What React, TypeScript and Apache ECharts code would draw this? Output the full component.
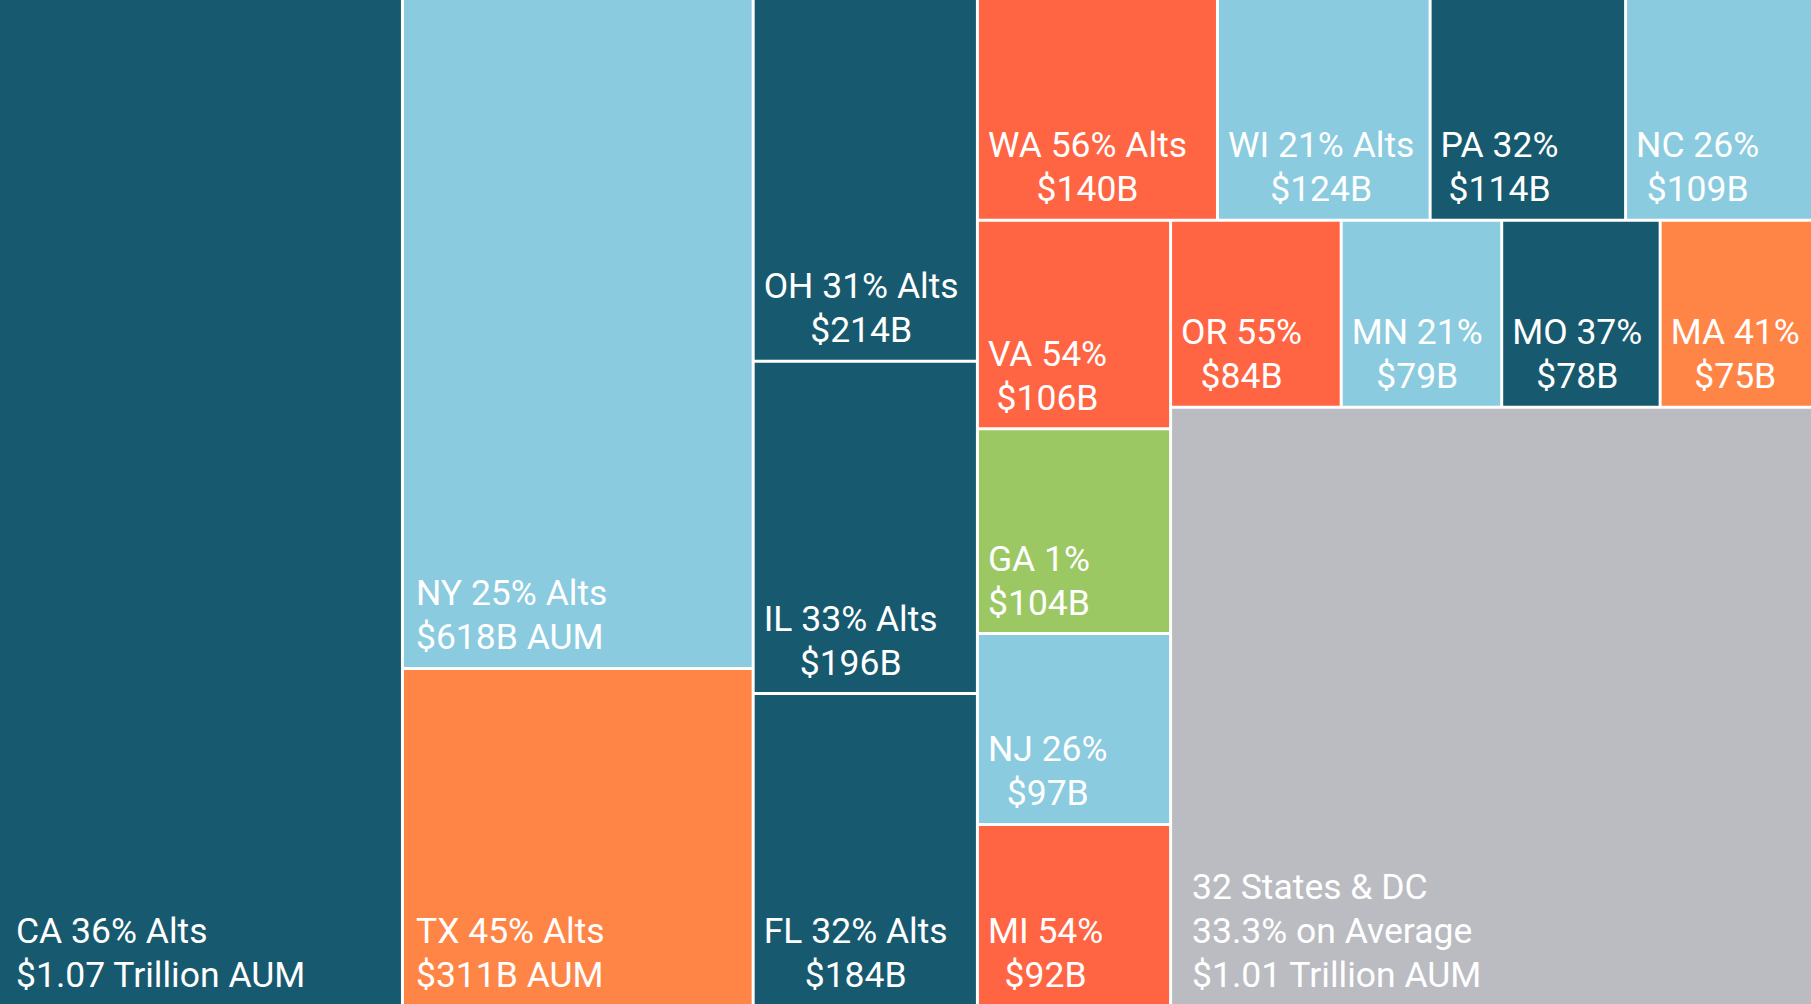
import React, { useEffect, useRef } from 'react';
import * as echarts from 'echarts';

// ---- Data ----
const states = ['CA', 'NY', 'TX', 'OH', 'IL', 'FL', 'WA', 'WI', 'PA', 'NC', 'VA', 'GA', 'NJ', 'MI', 'OR', 'MN', 'MO', 'MA', '32 States & DC'];
const aumBillions = [1070, 618, 311, 214, 196, 184, 140, 124, 114, 109, 106, 104, 97, 92, 84, 79, 78, 75, 1010];
const labelTexts = [
  'CA 36% Alts\n$1.07 Trillion AUM',
  'NY 25% Alts\n$618B AUM',
  'TX 45% Alts\n$311B AUM',
  'OH 31% Alts\n$214B',
  'IL 33% Alts\n$196B',
  'FL 32% Alts\n$184B',
  'WA 56% Alts\n$140B',
  'WI 21% Alts\n$124B',
  'PA 32%\n$114B',
  'NC 26%\n$109B',
  'VA 54%\n$106B',
  'GA 1%\n$104B',
  'NJ 26%\n$97B',
  'MI 54%\n$92B',
  'OR 55%\n$84B',
  'MN 21%\n$79B',
  'MO 37%\n$78B',
  'MA 41%\n$75B',
  '32 States & DC\n33.3% on Average\n$1.01 Trillion AUM',
];
const colorGroup = ['dark', 'light', 'orange', 'dark', 'dark', 'dark', 'red', 'light', 'dark', 'light', 'red', 'green', 'light', 'red', 'red', 'light', 'dark', 'orange', 'gray'];
const centeredLines = [false, false, false, true, true, true, true, true, true, true, true, true, true, true, true, true, true, true, false];
// grouping of the cells (indices into the arrays above)
const grouping: any[] = [0, [1, 2], [3, 4, 5], [[6, 7, 8, 9], [10, 11, 12, 13], [14, 15, 16, 17], 18]];

// ---- Styles ----
const palette: Record<string, string> = {
  dark: '#175a6f',
  light: '#8acbdf',
  red: '#ff6543',
  orange: '#ff8547',
  green: '#9cc864',
  gray: '#bbbcc1',
};
const extraLeftPad: Record<string, number> = { CA: 7, NY: 3, TX: 3, '32 States & DC': 11 };

let groupCounter = 0;
function buildNode(entry: any): any {
  if (typeof entry === 'number') {
    return {
      name: states[entry],
      value: aumBillions[entry],
      itemStyle: { color: palette[colorGroup[entry]] },
    };
  }
  groupCounter += 1;
  return { name: 'group' + groupCounter, children: entry.map(buildNode) };
}

export default function App() {
  const ref = useRef<HTMLDivElement>(null);
  useEffect(() => {
    if (!ref.current) return;
    const chart = echarts.init(ref.current, null, { renderer: 'svg' });
    groupCounter = 0;
    const data = grouping.map(buildNode);
    const labelByName: Record<string, string> = {};
    const padByText: Record<string, number> = {};
    states.forEach((s, i) => {
      labelByName[s] = labelTexts[i];
      padByText[labelTexts[i]] = extraLeftPad[s] || 0;
    });
    const centeredSet = new Set(labelTexts.filter((_, i) => centeredLines[i]));
    chart.setOption({
      animation: false,
      series: [
        {
          type: 'treemap',
          left: 0,
          top: 0,
          right: 0,
          bottom: 0,
          sort: false,
          squareRatio: 0.000001,
          roam: false,
          nodeClick: false,
          breadcrumb: { show: false },
          visibleMin: 0,
          itemStyle: { gapWidth: 3, borderWidth: 0, borderColor: '#ffffff' },
          label: {
            show: true,
            position: 'insideBottomLeft',
            distance: 9,
            padding: 0,
            color: '#ffffff',
            fontFamily: 'Roboto',
            fontSize: 35.5,
            lineHeight: 44,
            overflow: 'none',
            formatter: (p: any) => labelByName[p.name] ?? '',
          },
          upperLabel: { show: false },
          labelLayout: (params: any) =>
            centeredSet.has(params.text)
              ? { align: 'center', dx: params.labelRect.width / 2, dy: 1.5 }
              : { dx: padByText[params.text] || 0, dy: 1.5 },
          data,
        },
      ],
    });
    return () => chart.dispose();
  }, []);
  return (
    <div
      ref={ref}
      style={{ position: 'fixed', left: 0, top: 0, width: '1811px', height: '1004px', background: '#ffffff' }}
    />
  );
}
